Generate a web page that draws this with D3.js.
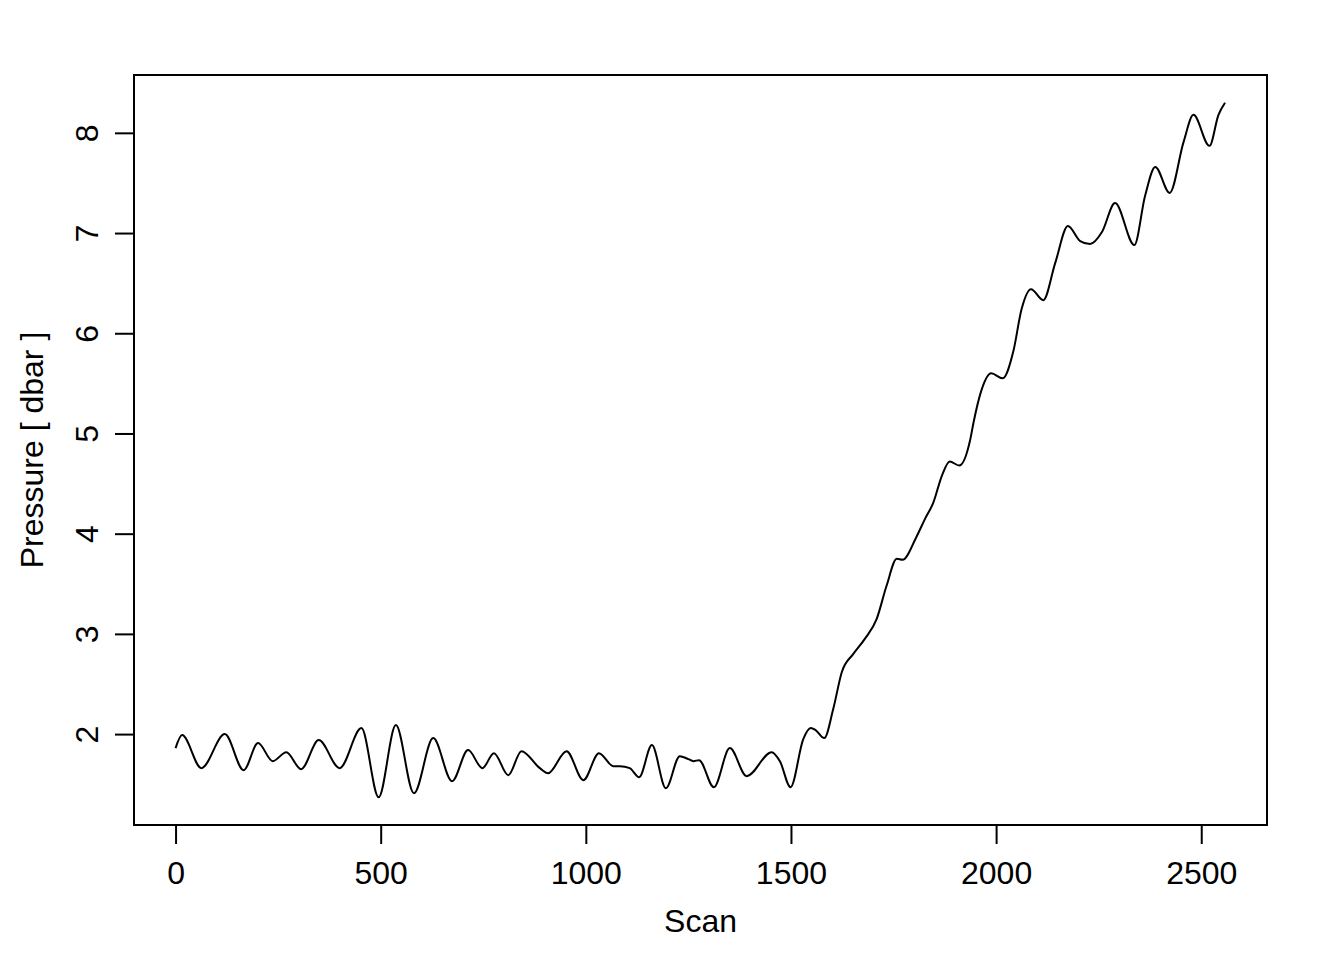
<!DOCTYPE html>
<html>
<head>
<meta charset="utf-8">
<script src="https://cdn.jsdelivr.net/npm/d3@7"></script>
<style>
  html, body { margin: 0; padding: 0; background: #fff; }
  svg { display: block; font-family: "Liberation Sans", Arial, Helvetica, sans-serif; }
</style>
</head>
<body>
<svg id="chart" width="1344" height="960"></svg>
<script>
// ---- data ----
const scan = [0, 16, 63, 120, 166, 201, 237, 270, 306, 349, 400, 453, 495, 537, 581, 628, 674, 713, 748, 776,
  811, 843, 888, 908, 953, 994, 1032, 1067, 1083, 1107, 1130, 1161, 1195, 1229, 1250, 1262, 1276, 1312, 1351, 1392,
  1453, 1473, 1499, 1530, 1548, 1560, 1581, 1603, 1624, 1652, 1680, 1709, 1733, 1758, 1772, 1806, 1827, 1847, 1868, 1887,
  1910, 1937, 1945, 1965, 1988, 2016, 2042, 2062, 2085, 2115, 2144, 2175, 2205, 2229, 2258, 2290, 2337, 2363, 2388, 2423,
  2457, 2481, 2520, 2542, 2558];
const pressure = [1.86, 1.99, 1.66, 2.00, 1.64, 1.91, 1.73, 1.82, 1.65, 1.94, 1.66, 2.06, 1.37, 2.09, 1.41, 1.96, 1.53, 1.84, 1.66, 1.81,
  1.59, 1.83, 1.66, 1.61, 1.83, 1.54, 1.81, 1.68, 1.68, 1.66, 1.57, 1.89, 1.46, 1.78, 1.75, 1.73, 1.74, 1.47, 1.86, 1.58,
  1.82, 1.73, 1.47, 1.95, 2.06, 2.04, 1.96, 2.25, 2.62, 2.80, 2.95, 3.15, 3.48, 3.75, 3.74, 3.97, 4.15, 4.31, 4.58, 4.72,
  4.68, 4.94, 5.11, 5.44, 5.60, 5.55, 5.82, 6.24, 6.44, 6.33, 6.70, 7.07, 6.92, 6.89, 7.01, 7.30, 6.88, 7.37, 7.66, 7.40,
  7.91, 8.18, 7.87, 8.18, 8.30];
const xTicks = [0, 500, 1000, 1500, 2000, 2500];
const yTicks = [2, 3, 4, 5, 6, 7, 8];
const xLabel = "Scan";
const yLabel = "Pressure [ dbar ]";

// ---- layout ----
const plot = { left: 134, right: 1267, top: 75, bottom: 825 };
const svg = d3.select("#chart");

function padded(ext) {
  const r = ext[1] - ext[0];
  return [ext[0] - 0.04 * r, ext[1] + 0.04 * r];
}
const x = d3.scaleLinear().domain(padded([1, d3.max(scan)])).range([plot.left, plot.right]);
const y = d3.scaleLinear().domain(padded(d3.extent(pressure))).range([plot.bottom, plot.top]);

const data = scan.map((s, i) => ({ s, p: pressure[i] }));

// line
const line = d3.line().x(d => x(d.s)).y(d => y(d.p)).curve(d3.curveMonotoneX);
svg.append("path")
  .datum(data)
  .attr("d", line)
  .attr("fill", "none")
  .attr("stroke", "#000")
  .attr("stroke-width", 2)
  .attr("stroke-linejoin", "round");

// box
svg.append("rect")
  .attr("x", plot.left).attr("y", plot.top)
  .attr("width", plot.right - plot.left).attr("height", plot.bottom - plot.top)
  .attr("fill", "none").attr("stroke", "#000").attr("stroke-width", 2);

// x axis
const gx = svg.append("g")
  .attr("transform", `translate(0,${plot.bottom})`)
  .call(d3.axisBottom(x).tickValues(xTicks).tickFormat(d3.format("d")).tickSize(19).tickSizeOuter(0).tickPadding(17));
gx.select(".domain").remove();
gx.selectAll("line").attr("stroke", "#000").attr("stroke-width", 2);
gx.selectAll("text").attr("font-size", 32).attr("fill", "#000")
  .attr("font-family", "'Liberation Sans', Arial, sans-serif");

// y axis
const gy = svg.append("g")
  .attr("transform", `translate(${plot.left},0)`)
  .call(d3.axisLeft(y).tickValues(yTicks).tickFormat(d3.format("d")).tickSize(19).tickSizeOuter(0));
gy.select(".domain").remove();
gy.selectAll("line").attr("stroke", "#000").attr("stroke-width", 2);
gy.selectAll("text")
  .attr("x", null).attr("dy", null)
  .attr("text-anchor", "middle")
  .attr("transform", "translate(-36,0) rotate(-90)")
  .attr("font-size", 32).attr("fill", "#000")
  .attr("font-family", "'Liberation Sans', Arial, sans-serif");

// axis titles
svg.append("text")
  .attr("x", (plot.left + plot.right) / 2).attr("y", 932)
  .attr("text-anchor", "middle").attr("font-size", 32).attr("fill", "#000")
  .text(xLabel);
svg.append("text")
  .attr("transform", `translate(43,${(plot.top + plot.bottom) / 2}) rotate(-90)`)
  .attr("text-anchor", "middle").attr("font-size", 32).attr("fill", "#000")
  .text(yLabel);
</script>
</body>
</html>
